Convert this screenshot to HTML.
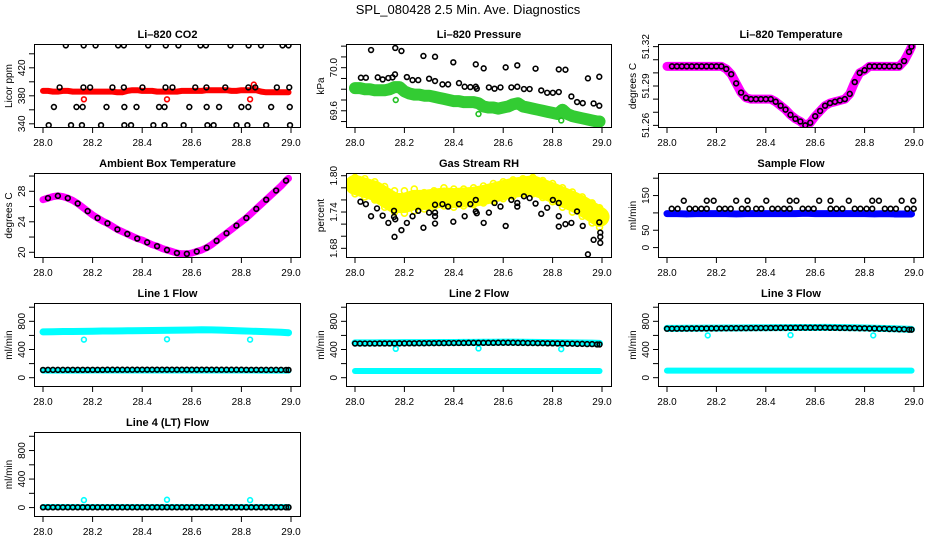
<!DOCTYPE html>
<html><head><meta charset="utf-8"><style>
body{margin:0;background:#fff}
svg{display:block;font-family:"Liberation Sans",Arial,sans-serif}
</style></head><body>
<svg id="c" width="936" height="540" viewBox="0 0 936 540">
<text x="468" y="14" text-anchor="middle" font-size="13">SPL_080428  2.5 Min. Ave. Diagnostics</text>
</svg>
<script>
// ---- shared time axes ----
const t51=[28.00,28.02,28.04,28.06,28.08,28.10,28.12,28.14,28.16,28.18,28.20,28.22,28.24,28.26,28.28,28.30,28.32,28.34,28.36,28.38,28.40,28.42,28.44,28.46,28.48,28.50,28.52,28.54,28.56,28.58,28.60,28.62,28.64,28.66,28.68,28.70,28.72,28.74,28.76,28.78,28.80,28.82,28.84,28.86,28.88,28.90,28.92,28.94,28.96,28.98,28.99];
const t26=[28.00,28.04,28.08,28.12,28.16,28.20,28.24,28.28,28.32,28.36,28.40,28.44,28.48,28.52,28.56,28.60,28.64,28.68,28.72,28.76,28.80,28.84,28.88,28.92,28.96,28.99];
const xTicks=[28.0,28.2,28.4,28.6,28.8,29.0];
const outT=[28.165,28.5,28.835];
// ---- CO2 ----
const co2Red=[387,387,386,386,387,387,386,386,386,386,386,386,386,386,386,385,385,387,388,388,387,387,387,386,386,386,386,386,387,387,387,387,387,388,388,388,388,388,387,387,388,388,388,388,386,385,385,385,385,385,385];
const co2RedOutT=[28.165,28.5,28.835,28.85];
const co2RedOutV=[375,375,375,396];
const co2BlkT=[28.092,28.164,28.212,28.303,28.326,28.424,28.495,28.546,28.635,28.657,28.756,28.829,28.879,28.966,28.990,28.067,28.163,28.19,28.28,28.326,28.401,28.494,28.522,28.614,28.659,28.735,28.828,28.856,28.943,28.993,28.044,28.135,28.16,28.256,28.328,28.377,28.468,28.49,28.59,28.66,28.71,28.80,28.828,28.92,28.995,28.023,28.113,28.157,28.234,28.328,28.355,28.445,28.49,28.567,28.663,28.688,28.78,28.824,28.90,28.996];
const co2BlkV=[452,452,452,452,452,452,452,452,452,452,452,452,452,452,452,392,392,392,392,392,392,392,392,392,392,392,392,392,392,392,364,364,364,364,364,364,364,364,364,364,364,364,364,364,364,338,338,338,338,338,338,338,338,338,338,338,338,338,338,338];
// ---- Pressure ----
const presGreen=[69.81,69.81,69.80,69.80,69.79,69.79,69.79,69.80,69.82,69.82,69.78,69.76,69.75,69.75,69.74,69.74,69.73,69.72,69.71,69.70,69.69,69.69,69.68,69.68,69.68,69.67,69.64,69.63,69.63,69.62,69.63,69.64,69.66,69.67,69.64,69.63,69.62,69.61,69.60,69.59,69.58,69.57,69.61,69.57,69.55,69.54,69.53,69.52,69.51,69.50,69.50];
const presOutV=[69.70,69.57,69.51];
const presBlkT=[28.024,28.044,28.065,28.092,28.112,28.135,28.152,28.162,28.163,28.188,28.21,28.233,28.256,28.277,28.30,28.324,28.324,28.354,28.377,28.398,28.421,28.444,28.467,28.489,28.489,28.493,28.521,28.542,28.565,28.589,28.61,28.633,28.657,28.657,28.684,28.707,28.731,28.754,28.778,28.801,28.825,28.825,28.852,28.876,28.899,28.922,28.943,28.966,28.989,28.989];
const presBlkV=[69.907,69.907,70.164,69.910,69.891,69.904,69.910,69.938,70.183,70.155,69.913,69.885,69.885,70.109,69.898,69.876,70.102,69.845,69.845,70.05,69.857,69.823,69.820,69.823,70.031,69.805,69.994,69.817,69.805,69.817,70.003,69.817,70.022,69.823,69.802,69.802,69.991,69.789,69.767,69.767,69.774,69.984,69.981,69.733,69.681,69.671,69.901,69.668,69.916,69.647];
// ---- Li-820 temperature ----
const tempMag=[51.305,51.305,51.305,51.305,51.305,51.305,51.305,51.305,51.305,51.305,51.305,51.305,51.303,51.299,51.292,51.285,51.281,51.280,51.280,51.280,51.280,51.280,51.278,51.275,51.272,51.268,51.265,51.263,51.260,51.262,51.267,51.271,51.275,51.277,51.278,51.279,51.280,51.284,51.293,51.300,51.302,51.305,51.305,51.305,51.305,51.305,51.305,51.305,51.309,51.316,51.320];
// ---- ambient ----
const ambMag=[26.9,27.1,27.3,27.4,27.3,27.1,26.8,26.4,25.9,25.4,24.9,24.5,24.1,23.8,23.4,23.0,22.7,22.4,22.1,21.8,21.6,21.3,21.0,20.8,20.5,20.3,20.1,19.9,19.8,19.8,19.9,20.1,20.3,20.6,21.0,21.5,22.0,22.5,23.0,23.5,24.0,24.5,25.1,25.7,26.3,26.9,27.5,28.1,28.7,29.4,29.7];
// ---- RH ----
const rhMid=[1.785,1.780,1.775,1.765,1.755,1.755,1.760,1.760,1.762,1.764,1.763,1.764,1.765,1.768,1.772,1.776,1.780,1.782,1.784,1.778,1.772,1.765,1.758,1.750,1.740,1.732];
const rhHi=[1.797,1.795,1.790,1.782,1.775,1.775,1.778,1.772,1.775,1.780,1.778,1.778,1.780,1.783,1.787,1.790,1.793,1.795,1.797,1.792,1.787,1.780,1.773,1.765,1.755,1.747];
const rhLo=[1.770,1.765,1.760,1.748,1.740,1.738,1.742,1.745,1.748,1.750,1.748,1.750,1.752,1.755,1.758,1.762,1.766,1.770,1.770,1.764,1.757,1.748,1.740,1.733,1.722,1.715];
const rhBlkT=[28.022,28.044,28.065,28.089,28.112,28.135,28.158,28.158,28.163,28.160,28.188,28.21,28.233,28.256,28.277,28.30,28.324,28.324,28.324,28.324,28.354,28.377,28.398,28.421,28.444,28.467,28.489,28.489,28.493,28.521,28.542,28.565,28.589,28.61,28.633,28.657,28.657,28.684,28.707,28.731,28.754,28.778,28.801,28.825,28.825,28.825,28.852,28.876,28.899,28.922,28.943,28.966,28.989,28.993,28.993,28.993];
const rhBlkV=[1.757,1.753,1.733,1.746,1.734,1.722,1.742,1.732,1.728,1.699,1.710,1.722,1.733,1.742,1.714,1.739,1.752,1.739,1.733,1.721,1.753,1.749,1.724,1.753,1.733,1.753,1.760,1.741,1.738,1.722,1.739,1.755,1.749,1.717,1.760,1.755,1.749,1.766,1.763,1.754,1.737,1.747,1.760,1.755,1.733,1.716,1.720,1.722,1.741,1.717,1.670,1.694,1.723,1.706,1.699,1.689];
// ---- sample flow ----
const sfBlue=[98,98,97,98,98,98,98,97,98,98,98,98,98,98,99,98,98,98,98,98,98,97,98,97,97,97];
const sfBlkT=[28.068,28.161,28.189,28.280,28.326,28.402,28.497,28.524,28.616,28.662,28.736,28.831,28.858,28.950,28.997,28.019,28.043,28.091,28.115,28.139,28.161,28.212,28.235,28.258,28.303,28.327,28.361,28.382,28.426,28.449,28.474,28.497,28.549,28.572,28.594,28.662,28.686,28.710,28.760,28.783,28.808,28.831,28.882,28.905,28.927,28.973,28.999];
const sfBlkV=[135,135,135,135,135,135,135,135,135,135,135,135,135,135,135,112,112,112,112,112,112,112,112,112,112,112,112,112,112,112,112,112,112,112,112,112,112,112,112,112,112,112,112,112,112,112,112];
// ---- line flows ----
const l1Hi=[650,652,655,656,658,660,662,663,665,666,668,670,672,673,675,676,680,678,675,670,665,660,655,650,645,638];
const l1Lo=[100,100,101,101,101,102,102,102,102,102,103,103,103,103,103,103,103,103,102,102,102,102,101,101,100,100];
const l1Blk=[110,111,111,112,112,112,112,113,113,113,114,114,114,114,114,114,114,114,113,113,113,112,112,111,111,110];
const l1OutV=[540,545,540];
const l2Hi=[495,495,495,496,496,497,497,498,499,500,500,501,502,503,503,504,505,503,501,500,498,496,494,492,490,487];
const l2Lo=[95,95,95,95,95,95,95,95,95,95,95,95,95,95,95,95,95,95,95,95,95,95,95,95,95,95];
const l2Blk=[485,485,485,486,486,487,488,489,490,491,492,493,494,495,495,496,496,494,492,490,488,486,483,480,477,472];
const l2OutV=[410,415,405];
const l3Hi=[700,700,701,702,703,704,705,706,707,708,709,710,711,712,713,713,714,712,710,708,705,702,699,695,690,685];
const l3Lo=[100,100,100,100,100,100,100,100,100,100,100,100,100,100,100,100,100,100,100,100,100,100,100,100,100,100];
const l3Blk=[695,696,697,698,699,700,701,702,703,704,705,706,707,708,709,709,710,708,706,704,701,698,695,691,687,682];
const l3OutV=[600,605,600];
const l4Cy=[8,8,8,8,8,8,8,8,8,8,8,8,8,8,8,8,8,8,8,8,8,8,8,8,8,8];
const l4Blk=[4,4,4,4,4,4,4,4,4,4,4,4,4,4,4,4,4,4,4,4,4,4,4,4,4,4];
const l4OutV=[105,110,105];

const svg=document.getElementById('c');
const NS='http://www.w3.org/2000/svg';
function mk(tag,at,parent){const e=document.createElementNS(NS,tag);for(const k in at)e.setAttribute(k,at[k]);(parent||svg).appendChild(e);return e;}
const colL=[34,346,658], colR=[301,612,924];
const rowT=[44,173,303,432], rowB=[128,258,387,517];

function panel(o){
  const L=colL[o.c],R=colR[o.c],T=rowT[o.r],B=rowB[o.r];
  const g=mk('g',{});
  
  
  const X=v=>L+9+(v-28)*(R-10-L-9);
  const Y=v=>B-(v-o.yr[0])/(o.yr[1]-o.yr[0])*(B-T);
  const clip='cl'+o.name;
  const cp=mk('clipPath',{id:clip},g);mk('rect',{x:L,y:T,width:R-L,height:B-T},cp);
  const d=mk('g',{'clip-path':'url(#'+clip+')'},g);
  
  
  o.draw(d,X,Y);
  const box=mk('rect',{x:L+.5,y:T+.5,width:R-L-1,height:B-T-1,fill:'none',stroke:'#000','stroke-width':1},g);
  
  
  const tt=mk('text',{x:(L+R)/2,y:T-6,'text-anchor':'middle','font-size':11,'font-weight':'bold'},g);
  tt.textContent=o.title;
  
  
  xTicks.forEach(v=>{
    mk('line',{x1:X(v),x2:X(v),y1:B,y2:B+5,stroke:'#000'},g);
    const t=mk('text',{x:X(v),y:B+18,'text-anchor':'middle','font-size':10},g);
    t.textContent=v.toFixed(1);
    
    
  });
  o.yt.forEach(v=>{const y=Y(v);mk('line',{x1:L-5,x2:L,y1:y,y2:y,stroke:'#000'},g);});
  o.yl.forEach(v=>{
    const y=Y(v);
    const t=mk('text',{transform:`translate(${L-9},${y}) rotate(-90)`,'text-anchor':'middle','font-size':10},g);
    t.textContent=v.toFixed(o.dp);
    
    
  });
  const yt=mk('text',{transform:`translate(${L-22},${(T+B)/2}) rotate(-90)`,'text-anchor':'middle','font-size':10},g);
  yt.textContent=o.ylab;
  
  
}
function band(g,X,Y,ts,vs,col,w,name){
  const p=mk('polyline',{points:ts.map((t,i)=>X(t)+','+Y(vs[i])).join(' '),fill:'none',stroke:col,'stroke-width':w,'stroke-linejoin':'round','stroke-linecap':'round'},g);
  
  
}
function pts(g,X,Y,ts,vs,col,name,r){
  ts.forEach((t,i)=>{
    const c=mk('circle',{cx:X(t),cy:Y(vs[i]),r:r||2.4,fill:'none',stroke:col,'stroke-width':1.6},g);
    
    
  });
}
const every2=a=>a.filter((_,i)=>i%2===1);

panel({name:'co2-panel',c:0,r:0,title:'Li\u2013820 CO2',ylab:'Licor ppm',yr:[334,454],yt:[340,360,380,400,420,440],yl:[340,380,420],dp:0,
 draw:(g,X,Y)=>{band(g,X,Y,t51,co2Red,'#f00',6,'co2-band');pts(g,X,Y,co2RedOutT,co2RedOutV,'#f00','co2-outlier');pts(g,X,Y,co2BlkT,co2BlkV,'#000','co2-point');}});
panel({name:'pressure-panel',c:1,r:0,title:'Li\u2013820 Pressure',ylab:'kPa',yr:[69.44,70.22],yt:[69.5,69.6,69.7,69.8,69.9,70.0,70.1,70.2],yl:[69.6,70.0],dp:1,
 draw:(g,X,Y)=>{band(g,X,Y,t51,presGreen,'#33cc33',12,'pressure-band');pts(g,X,Y,outT,presOutV,'#22c022','pressure-outlier');pts(g,X,Y,presBlkT,presBlkV,'#000','pressure-point');}});
panel({name:'li820-temp-panel',c:2,r:0,title:'Li\u2013820 Temperature',ylab:'degrees C',yr:[51.258,51.322],yt:[51.26,51.27,51.28,51.29,51.30,51.31,51.32],yl:[51.26,51.29,51.32],dp:2,
 draw:(g,X,Y)=>{band(g,X,Y,t51,tempMag,'#f0f',9,'temp-band');pts(g,X,Y,t51.slice(1),tempMag.slice(1),'#000','temp-point');}});
panel({name:'ambient-panel',c:0,r:1,title:'Ambient Box Temperature',ylab:'degrees C',yr:[19.25,30.4],yt:[20,22,24,26,28,30],yl:[20,24,28],dp:0,
 draw:(g,X,Y)=>{band(g,X,Y,t51,ambMag,'#f0f',7,'ambient-band');pts(g,X,Y,every2(t51),every2(ambMag),'#000','ambient-point');}});
panel({name:'rh-panel',c:1,r:1,title:'Gas Stream RH',ylab:'percent',yr:[1.664,1.8045],yt:[1.68,1.70,1.72,1.74,1.76,1.78,1.80],yl:[1.68,1.74,1.80],dp:2,
 draw:(g,X,Y)=>{band(g,X,Y,t26,rhMid,'#ff0',20,'rh-band');pts(g,X,Y,t26,rhHi,'#ff0','rh-point',3);pts(g,X,Y,t26,rhLo,'#ff0','rh-point',3);pts(g,X,Y,rhBlkT,rhBlkV,'#000','rh-black-point');}});
panel({name:'sample-flow-panel',c:2,r:1,title:'Sample Flow',ylab:'ml/min',yr:[-30,215],yt:[0,50,100,150,200],yl:[0,50,150],dp:0,
 draw:(g,X,Y)=>{band(g,X,Y,t26,sfBlue,'#00f',7,'sample-flow-band');pts(g,X,Y,sfBlkT,sfBlkV,'#000','sample-flow-point');}});
const flowAx={yr:[-132,1060],yt:[0,200,400,600,800,1000],yl:[0,400,800],dp:0,ylab:'ml/min'};
function flowPanel(name,c,r,title,hi,lo,blk,outV){
  panel(Object.assign({name,c,r,title,draw:(g,X,Y)=>{
    if(hi)band(g,X,Y,t26,hi,'#0ff',7,'flow-high-band');
    band(g,X,Y,t26,lo,'#0ff',6,'flow-low-band');
    pts(g,X,Y,outT,outV,'#0ff','flow-outlier');
    pts(g,X,Y,t51,t51.map((t,i)=>blk[Math.min(25,Math.round(i/2))]),'#000','flow-point');
  }},flowAx));
}
flowPanel('line1-flow-panel',0,2,'Line 1 Flow',l1Hi,l1Lo,l1Blk,l1OutV);
flowPanel('line2-flow-panel',1,2,'Line 2 Flow',l2Hi,l2Lo,l2Blk,l2OutV);
flowPanel('line3-flow-panel',2,2,'Line 3 Flow',l3Hi,l3Lo,l3Blk,l3OutV);
flowPanel('line4-flow-panel',0,3,'Line 4 (LT) Flow',null,l4Cy,l4Blk,l4OutV);
</script>
</body></html>
